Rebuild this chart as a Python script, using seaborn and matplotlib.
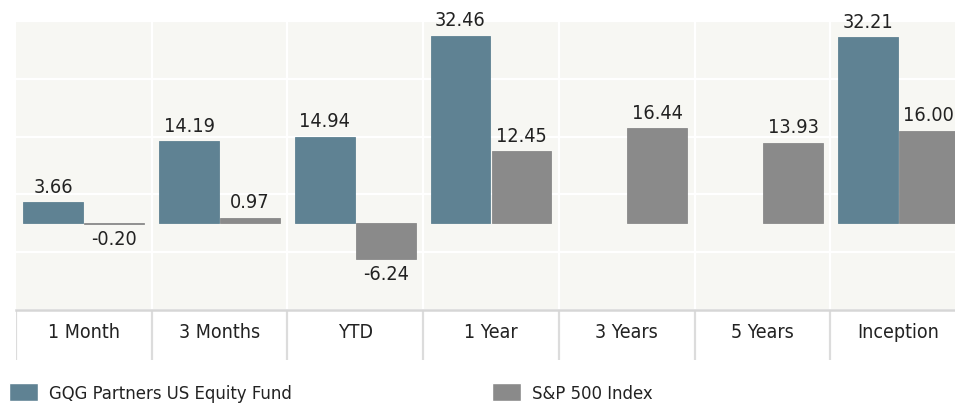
import matplotlib.pyplot as plt
import pandas as pd
import seaborn as sns
from matplotlib.transforms import blended_transform_factory

PERIODS = ["1 Month", "3 Months", "YTD", "1 Year", "3 Years", "5 Years", "Inception"]
FUND_NAME = "GQG Partners US Equity Fund"
INDEX_NAME = "S&P 500 Index"
FUND_RETURNS = [3.66, 14.19, 14.94, 32.46, None, None, 32.21]
INDEX_RETURNS = [-0.20, 0.97, -6.24, 12.45, 16.44, 13.93, 16.00]

FUND_COLOR = "#5f8293"
INDEX_COLOR = "#8a8a8a"
PANEL_BG = "#f7f7f3"
TEXT_COLOR = "#222222"

sns.set_theme(style="white")
plt.rcParams["font.family"] = ["DejaVu Sans"]
plt.rcParams["font.stretch"] = "condensed"

df = pd.DataFrame({
    "period": PERIODS * 2,
    "series": [FUND_NAME] * len(PERIODS) + [INDEX_NAME] * len(PERIODS),
    "value": FUND_RETURNS + INDEX_RETURNS,
})

fig = plt.figure(figsize=(9.55, 4.05), dpi=100)
W, H = 955, 405
ax = fig.add_axes([16 / W, 95 / H, 950 / W, 289 / H])
lab_ax = fig.add_axes([16 / W, 45 / H, 950 / W, 50 / H], sharex=ax)

sns.barplot(data=df, x="period", y="value", hue="series", order=PERIODS,
            hue_order=[FUND_NAME, INDEX_NAME],
            palette=[FUND_COLOR, INDEX_COLOR], width=0.9, gap=0.02,
            saturation=1, errorbar=None, ax=ax)

# thin outline in bar colour so the tiny -0.20 bar stays visible
for cont, col in zip(ax.containers, [FUND_COLOR, INDEX_COLOR]):
    for bar in cont:
        bar.set_edgecolor(col)
        bar.set_linewidth(0.6)

ax.set_facecolor(PANEL_BG)
ax.set_xlim(-0.5, len(PERIODS) - 0.5)
ax.set_ylim(-15, 34.5)
ax.set_yticks(range(-15, 36, 10))
ax.set_xticks([i + 0.5 for i in range(len(PERIODS) - 1)], minor=True)
ax.grid(True, axis="y", which="major", color="white", linewidth=1.6)
ax.grid(True, axis="x", which="minor", color="white", linewidth=1.6)
ax.grid(False, axis="x", which="major")
ax.set_axisbelow(True)
ax.tick_params(axis="both", which="both", length=0, labelbottom=False, labelleft=False)
ax.set_xlabel("")
ax.set_ylabel("")
for s in ax.spines.values():
    s.set_visible(False)

for cont in ax.containers:
    labels = []
    for bar in cont:
        h = bar.get_height()
        labels.append("" if pd.isna(h) else f"{h:.2f}")
    ax.bar_label(cont, labels=labels, padding=4, fontsize=14.2, color=TEXT_COLOR)

# category label row
lab_ax.set_facecolor("white")
lab_ax.set_ylim(0, 1)
for i in range(len(PERIODS)):
    lab_ax.axvline(i - 0.5, color="#dcdcdc", linewidth=1.6)
trans = blended_transform_factory(lab_ax.transData, lab_ax.transAxes)
for i, p in enumerate(PERIODS):
    lab_ax.text(i, 0.54, p, ha="center", va="center", fontsize=14,
                color=TEXT_COLOR, transform=trans)
lab_ax.tick_params(axis="both", which="both", length=0, labelbottom=False, labelleft=False)
lab_ax.grid(False)
for name, s in lab_ax.spines.items():
    s.set_visible(name == "top")
lab_ax.spines["top"].set_color("#d6d6d6")
lab_ax.spines["top"].set_linewidth(1.8)

handles, labels = ax.get_legend_handles_labels()
ax.get_legend().remove()
leg_kw = dict(frameon=False, fontsize=13.2, handlelength=1.6, handleheight=1.1,
              handletextpad=0.6, borderaxespad=0, borderpad=0, labelcolor=TEXT_COLOR)
fig.legend(handles[:1], labels[:1], loc="center left",
           bbox_to_anchor=(9 / W, 1 - 393 / H), **leg_kw)
fig.legend(handles[1:], labels[1:], loc="center left",
           bbox_to_anchor=(492 / W, 1 - 393 / H), **leg_kw)

fig.savefig("out.png", dpi=100, facecolor="white")
